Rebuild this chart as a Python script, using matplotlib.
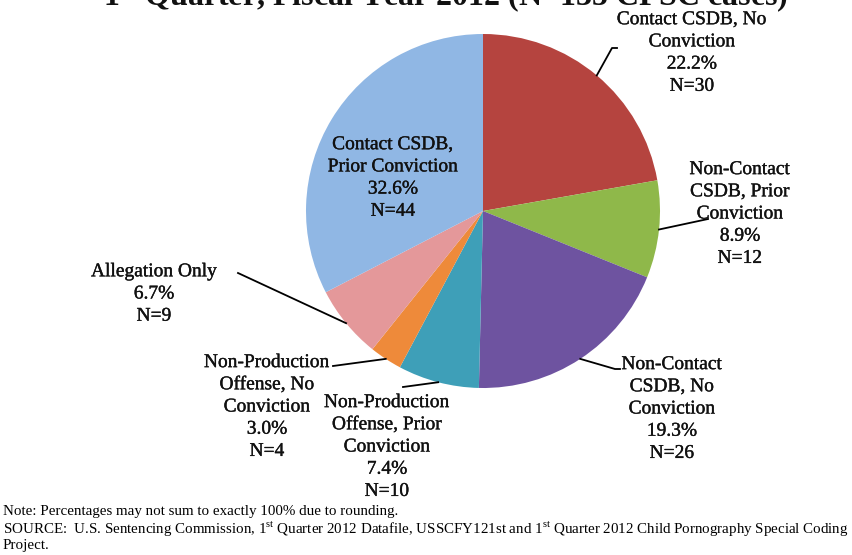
import numpy as np
import matplotlib
matplotlib.use("Agg")
import matplotlib.pyplot as plt
import matplotlib.patheffects as pe

# Données du graphique
categories = ["Contact CSDB, No\nConviction",
              "Non-Contact\nCSDB, Prior\nConviction",
              "Non-Contact\nCSDB, No\nConviction",
              "Non-Production\nOffense, Prior\nConviction",
              "Non-Production\nOffense, No\nConviction",
              "Allegation Only",
              "Contact CSDB,\nPrior Conviction"]
counts = [30, 12, 26, 10, 4, 9, 44]
pcts = [22.2, 8.9, 19.3, 7.4, 3.0, 6.7, 32.6]
colors = ["#B5443F", "#8FB84A", "#6E53A0", "#3E9FB8", "#EE8A3A", "#E4989A", "#90B7E4"]

W, H = 852, 555

# positions des étiquettes (pixels image, y vers le bas) et points du trait de rappel
label_pos = [(692, 53), (740, 214), (672, 409), (387, 447), (267, 407), (154, 294), (393, 178)]
leader_pts = [[(612, 48), (617, 48)],
              [(708, 219)],
              [(615, 369), (620, 369)],
              [(403, 387)],
              [(333, 366)],
              [(238, 273)],
              None]

plt.rcParams['font.family'] = ['Liberation Serif', 'DejaVu Serif']
plt.rcParams['mathtext.fontset'] = 'custom'
plt.rcParams['mathtext.rm'] = 'Liberation Serif'
plt.rcParams['mathtext.bf'] = 'Liberation Serif:bold'

# léger épaississement du texte (aspect scanné)
epais = [pe.withStroke(linewidth=0.25, foreground='#111111')]


def px(x, y):
    # pixel image -> coordonnées des axes (y vers le haut)
    return x, H - y


fig = plt.figure(figsize=(W / 100, H / 100), dpi=100)
ax = fig.add_axes([0, 0, 1, 1])

cx, cy = px(483, 211)
R = 177
wedges, _ = ax.pie(counts, colors=colors, startangle=90, counterclock=False,
                   radius=R, center=(cx, cy), wedgeprops=dict(linewidth=0))
ax.set_xlim(0, W)
ax.set_ylim(0, H)
ax.axis('off')

for i, w in enumerate(wedges):
    txt = "%s\n%.1f%%\nN=%d" % (categories[i], pcts[i], counts[i])
    lx, ly = px(*label_pos[i])
    ax.text(lx, ly, txt, ha='center', va='center', multialignment='center',
            fontsize=14, linespacing=1.4, color='#111111', zorder=5,
            path_effects=epais)
    if leader_pts[i] is None:
        continue
    ang = np.deg2rad((w.theta1 + w.theta2) / 2)
    xs = [cx + R * np.cos(ang)]
    ys = [cy + R * np.sin(ang)]
    for p in leader_pts[i]:
        x, y = px(*p)
        xs.append(x)
        ys.append(y)
    ax.plot(xs, ys, color='black', lw=1.3, zorder=4)

# Titre (coupé en haut)
ax.text(*px(445, 5), r"1$^{\mathbf{st}}$ Quarter, Fiscal Year 2012 (N=135 CPSC cases)",
        ha='center', va='baseline', fontsize=23, fontweight='bold', color='#111111')

# Notes de bas de page
ax.text(*px(3, 512), "Note: Percentages may not sum to exactly 100% due to rounding.",
        ha='left', va='center', fontsize=10.8)
ax.text(*px(3, 529), r"SOURCE:  U.S. Sentencing Commission, 1$^{\mathrm{st}}$ Quarter 2012 Datafile, USSCFY121st and 1$^{\mathrm{st}}$ Quarter 2012 Child Pornography Special Coding",
        ha='left', va='center', fontsize=10.8)
ax.text(*px(3, 546), "Project.", ha='left', va='center', fontsize=10.8)

fig.savefig("out.png", dpi=100)
